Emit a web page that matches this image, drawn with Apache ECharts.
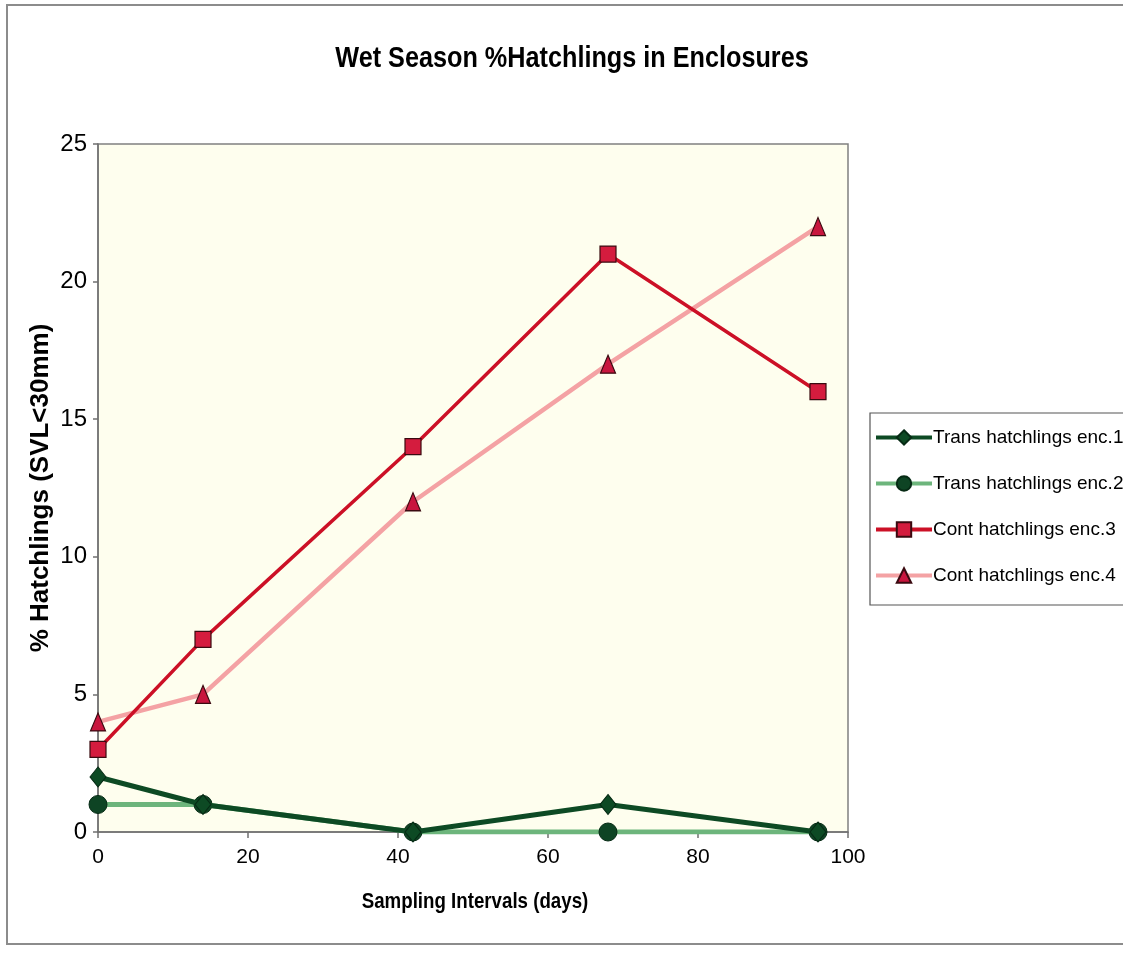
<!DOCTYPE html>
<html>
<head>
<meta charset="utf-8">
<title>Wet Season % Hatchlings in Enclosures</title>
<script src="https://cdn.jsdelivr.net/npm/echarts@6/dist/echarts.min.js"></script>
<style>
  html, body { margin: 0; padding: 0; background: #ffffff; }
  #chart { width: 1123px; height: 954px; }
</style>
</head>
<body>
<div id="chart"></div>
<script>
// Sampling days (x) and % hatchlings (SVL < 30 mm) per enclosure
const days = [0, 14, 42, 68, 96];
const transEnc1 = [2, 1, 0, 1, 0];
const transEnc2 = [1, 1, 0, 0, 0];
const contEnc3 = [3, 7, 14, 21, 16];
const contEnc4 = [4, 5, 12, 17, 22];

const seriesNames = [
  'Trans hatchlings enc.1',
  'Trans hatchlings enc.2',
  'Cont hatchlings enc.3',
  'Cont hatchlings enc.4'
];

const chartTitle = 'Wet Season %Hatchlings in Enclosures';
const xAxisTitle = 'Sampling Intervals (days)';
const yAxisTitle = '% Hatchlings (SVL<30mm)';

const pairs = (ys) => days.map((d, i) => [d, ys[i]]);

const sans = '"Liberation Sans", Arial, sans-serif';

const chart = echarts.init(document.getElementById('chart'), null, { renderer: 'canvas' });

chart.setOption({
  backgroundColor: '#ffffff',
  animation: false,
  graphic: [
    {
      type: 'rect',
      shape: { x: 7, y: 5, width: 1130, height: 939 },
      style: { fill: 'none', stroke: '#8c8c8c', lineWidth: 2 },
      silent: true,
      z: -1
    },
    {
      // condensed bold heading
      type: 'text',
      x: 572, y: 59,
      scaleX: 0.87,
      style: {
        text: chartTitle,
        fill: '#000',
        font: 'bold 29px ' + sans,
        textAlign: 'center',
        textVerticalAlign: 'middle'
      },
      silent: true
    },
    {
      // condensed x-axis caption
      type: 'text',
      x: 475, y: 902,
      scaleX: 0.85,
      style: {
        text: xAxisTitle,
        fill: '#000',
        font: 'bold 22px ' + sans,
        textAlign: 'center',
        textVerticalAlign: 'middle'
      },
      silent: true
    }
  ],
  grid: {
    left: 98, right: 275, top: 144, bottom: 122,
    show: true,
    backgroundColor: '#fefeee',
    borderColor: '#808080',
    borderWidth: 1.5
  },
  legend: {
    orient: 'vertical',
    left: 870,
    top: 413,
    width: 260,
    backgroundColor: '#ffffff',
    borderColor: '#555',
    borderWidth: 1.2,
    padding: [15, 10, 20, 4],
    itemWidth: 56,
    itemHeight: 18,
    itemGap: 27,
    lineStyle: { width: 4 },
    textStyle: { fontFamily: sans, fontSize: 19, color: '#000', padding: [0, 0, 0, -4] },
    data: seriesNames
  },
  xAxis: {
    type: 'value',
    min: 0, max: 100, interval: 20,
    axisLine: { show: true, onZero: false, lineStyle: { color: '#707070', width: 1.5 } },
    axisTick: { show: true, length: 6, lineStyle: { color: '#707070', width: 1.5 } },
    axisLabel: { fontFamily: sans, fontSize: 21, color: '#000', margin: 15 },
    splitLine: { show: false }
  },
  yAxis: {
    type: 'value',
    min: 0, max: 25, interval: 5,
    name: yAxisTitle,
    nameLocation: 'middle',
    nameGap: 44,
    nameMoveOverlap: false,
    nameRotate: 90,
    nameTextStyle: { fontFamily: sans, fontWeight: 'bold', fontSize: 26, color: '#000' },
    axisLine: { show: true, lineStyle: { color: '#707070', width: 1.5 } },
    axisTick: { show: true, length: 5, lineStyle: { color: '#707070', width: 1.5 } },
    axisLabel: { fontFamily: sans, fontSize: 24, color: '#000', margin: 11 },
    splitLine: { show: false }
  },
  series: [
    {
      name: seriesNames[0],
      type: 'line',
      data: pairs(transEnc1),
      symbol: 'diamond',
      symbolSize: [16, 20],
      lineStyle: { color: '#0d4a24', width: 5 },
      itemStyle: { color: '#0d4a24', borderColor: '#062a14', borderWidth: 1 },
      z: 4
    },
    {
      name: seriesNames[1],
      type: 'line',
      data: pairs(transEnc2),
      symbol: 'circle',
      symbolSize: [18, 18],
      lineStyle: { color: '#6db57c', width: 5 },
      itemStyle: { color: '#0e4424', borderColor: '#062a14', borderWidth: 1 },
      z: 3
    },
    {
      name: seriesNames[2],
      type: 'line',
      data: pairs(contEnc3),
      symbol: 'rect',
      symbolSize: [16, 16],
      lineStyle: { color: '#cc1026', width: 3.5 },
      itemStyle: { color: '#d41c3e', borderColor: '#3a0a10', borderWidth: 1.2 },
      z: 5
    },
    {
      name: seriesNames[3],
      type: 'line',
      data: pairs(contEnc4),
      symbol: 'triangle',
      symbolSize: [15, 18],
      lineStyle: { color: '#f4a2a4', width: 4.5 },
      itemStyle: { color: '#c8163e', borderColor: '#3a0a10', borderWidth: 1.2 },
      z: 4
    }
  ]
});
</script>
</body>
</html>
